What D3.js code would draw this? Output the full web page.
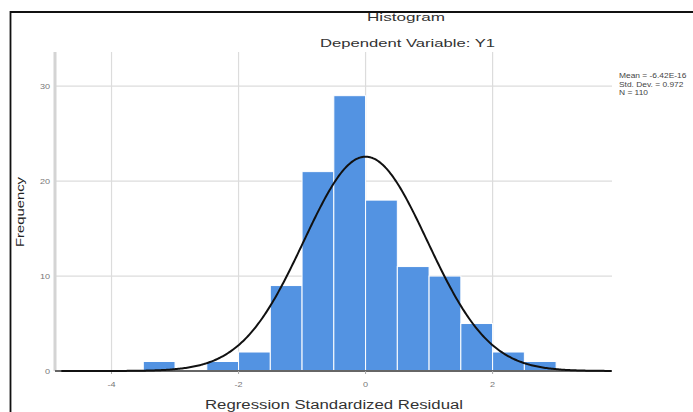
<!DOCTYPE html>
<html>
<head>
<meta charset="utf-8">
<script src="https://cdn.jsdelivr.net/npm/d3@7"></script>
<style>
  body { margin: 0; background: #fff; }
  svg { display: block; font-family: "Liberation Sans", Arial, sans-serif; }
</style>
</head>
<body>
<svg id="plot" width="693" height="412"></svg>
<script>
// bins of the regression standardized residual (width 0.5)
const binStart = [-3.5, -3.0, -2.5, -2.0, -1.5, -1.0, -0.5, 0.0, 0.5, 1.0, 1.5, 2.0, 2.5]
const binCount = [1, 0, 1, 2, 9, 21, 29, 18, 11, 10, 5, 2, 1]
const binWidth = 0.5

const xTicks = [-4, -2, 0, 2]
const yTicks = [0, 10, 20, 30]
const statLines = ["Mean = -6.42E-16", "Std. Dev. = 0.972", "N = 110"]
const mean = 0, sd = 0.972, n = 110

const svg = d3.select("#plot")

const margin = ({ top: 52, right: 81, bottom: 41, left: 55 })
const width = 693, height = 412

x = d3.scaleLinear()
    .domain([-4.89, 3.88])
    .range([margin.left, width - margin.right])

y = d3.scaleLinear()
    .domain([0, 33.6])
    .range([height - margin.bottom, margin.top])

// frame of the output box
svg.append("path")
    .attr("d", `M10.5,412V12H693`)
    .attr("fill", "none")
    .attr("stroke", "#111")
    .attr("stroke-width", 1.8)

// grid
svg.append("g")
    .selectAll("line")
    .data(yTicks.filter(d => d > 0))
    .join("line")
    .attr("x1", x.range()[0]).attr("x2", x.range()[1])
    .attr("y1", d => y(d)).attr("y2", d => y(d))
    .attr("stroke", "#dcdcdc")
    .attr("stroke-width", 1.2)

svg.append("g")
    .selectAll("line")
    .data(xTicks)
    .join("line")
    .attr("x1", d => x(d)).attr("x2", d => x(d))
    .attr("y1", y.range()[1]).attr("y2", y(0))
    .attr("stroke", "#dcdcdc")
    .attr("stroke-width", 1.2)

// left axis line (light)
svg.append("line")
    .attr("x1", x.range()[0]).attr("x2", x.range()[0])
    .attr("y1", y.range()[1]).attr("y2", y(0))
    .attr("stroke", "#d4d4d4")
    .attr("stroke-width", 3)

// bars
const bins = binStart.map((s, i) => ({ x0: s, x1: s + binWidth, count: binCount[i] }))
svg.append("g")
    .selectAll("rect")
    .data(bins.filter(d => d.count > 0))
    .join("rect")
    .attr("x", d => x(d.x0))
    .attr("width", d => x(d.x1) - x(d.x0))
    .attr("y", d => y(d.count))
    .attr("height", d => y(0) - y(d.count))
    .attr("fill", "#5393e2")
    .attr("stroke", "#fff")
    .attr("stroke-width", 1)

// bottom axis line
svg.append("line")
    .attr("x1", x.range()[0]).attr("x2", x.range()[1])
    .attr("y1", y(0)).attr("y2", y(0))
    .attr("stroke", "#666")
    .attr("stroke-width", 2)

svg.append("g")
    .selectAll("line")
    .data(xTicks)
    .join("line")
    .attr("x1", d => x(d)).attr("x2", d => x(d))
    .attr("y1", y(0)).attr("y2", y(0) + 3)
    .attr("stroke", "#aaa")

// fitted normal curve
const pdf = v => n * binWidth * Math.exp(-0.5 * ((v - mean) / sd) ** 2) / (sd * Math.sqrt(2 * Math.PI))
line = d3.line()
    .x(d => x(d))
    .y(d => y(pdf(d)))
svg.append("path")
    .datum(d3.range(x.domain()[0] + 0.1, x.domain()[1] + 0.001, 0.02))
    .attr("fill", "none")
    .attr("stroke", "#111")
    .attr("stroke-width", 2)
    .attr("stroke-linejoin", "round")
    .attr("d", line)

// tick labels
svg.append("g")
    .selectAll("text")
    .data(yTicks)
    .join("text")
    .attr("transform", d => `translate(50,${y(d) + 2.5}) scale(1.3,1)`)
    .attr("text-anchor", "end")
    .attr("font-size", 7)
    .attr("fill", "#777")
    .text(d => d)

svg.append("g")
    .selectAll("text")
    .data(xTicks)
    .join("text")
    .attr("transform", d => `translate(${x(d)},387) scale(1.3,1)`)
    .attr("text-anchor", "middle")
    .attr("font-size", 7)
    .attr("fill", "#777")
    .text(d => d)

// titles
svg.append("text")
    .attr("x", 367).attr("y", 20.5)
    .attr("font-size", 11)
    .attr("fill", "#333")
    .attr("textLength", 78).attr("lengthAdjust", "spacingAndGlyphs")
    .text("Histogram")

svg.append("text")
    .attr("x", 320).attr("y", 46.5)
    .attr("font-size", 11)
    .attr("fill", "#333")
    .attr("textLength", 175).attr("lengthAdjust", "spacingAndGlyphs")
    .text("Dependent Variable: Y1")

svg.append("text")
    .attr("x", 205).attr("y", 409)
    .attr("font-size", 12.5)
    .attr("fill", "#333")
    .attr("textLength", 258).attr("lengthAdjust", "spacingAndGlyphs")
    .text("Regression Standardized Residual")

svg.append("text")
    .attr("transform", "translate(24,247) rotate(-90)")
    .attr("font-size", 11.5)
    .attr("fill", "#222")
    .attr("textLength", 70).attr("lengthAdjust", "spacingAndGlyphs")
    .text("Frequency")

// stats legend
svg.append("g")
    .selectAll("text")
    .data(statLines)
    .join("text")
    .attr("transform", (d, i) => `translate(619,${78 + i * 8.5}) scale(1.2,1)`)
    .attr("font-size", 7)
    .attr("fill", "#444")
    .text(d => d)
</script>
</body>
</html>
